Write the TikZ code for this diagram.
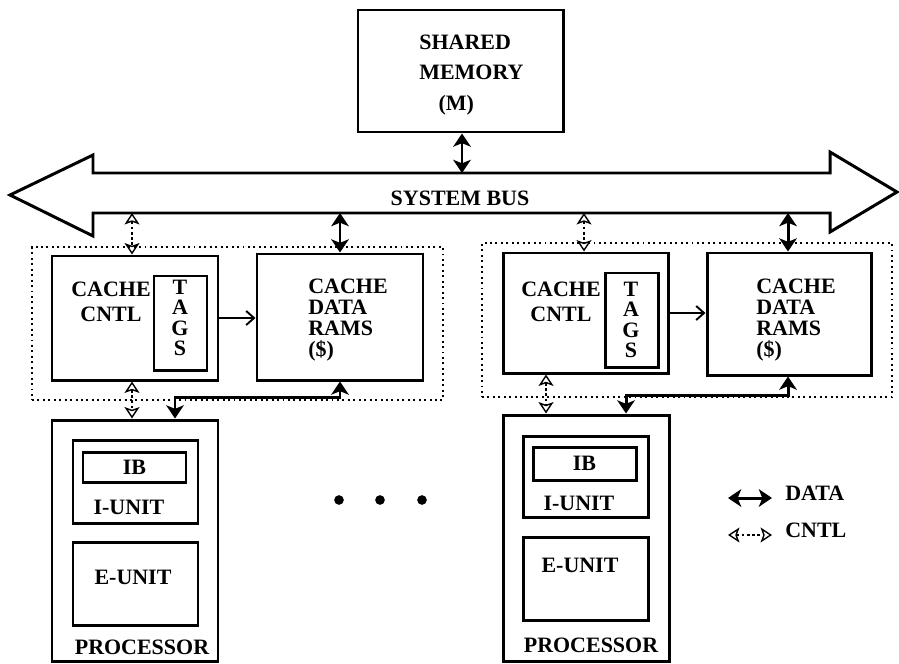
\documentclass[tikz,border=0pt]{standalone}
\usepackage{fontspec}
\setmainfont{Liberation Serif}
\usepackage{tikz}
\usetikzlibrary{arrows.meta,fit}

\begin{document}
\begin{tikzpicture}[x=0.02cm,y=-0.02cm]
	\tikzstyle{blk}=[draw,line width=1.7pt,inner sep=0pt]
	\tikzstyle{grp}=[draw,dotted,line width=1.1pt,inner sep=0pt]
	\tikzstyle{txt}=[inner sep=0pt,font=\fontsize{12.5}{14}\selectfont\bfseries]
	\tikzstyle{dot}=[circle,fill=black,inner sep=0pt,minimum size=5.5pt]
	\tikzstyle{data}=[line width=1.7pt,{Stealth[length=7.5pt,width=10pt,inset=2pt]}-{Stealth[length=7.5pt,width=10pt,inset=2pt]}]
	\tikzstyle{cntl}=[line width=0.8pt,dash pattern=on 1.5pt off 1.5pt,{Stealth[open,length=6.5pt,width=8.5pt,inset=1.5pt]}-{Stealth[open,length=6.5pt,width=8.5pt,inset=1.5pt]}]
	\tikzstyle{tagarr}=[line width=1.1pt,-{Straight Barb[length=4.5pt,width=8pt]}]
	\useasboundingbox (0,0) rectangle (899,663);
	\clip (0,0) rectangle (899,663);
	% memory and bus
	\node[blk,fit={(358,10) (563,132)}] (mem) {};
	\node[txt,anchor=west,align=left,font=\fontsize{12.5}{17.6}\selectfont\bfseries] (memtxt) at (419,75) {SHARED\\MEMORY\\\hspace*{11pt}(M)};
	\draw[line width=1.7pt] (93,173) -- (830,173) -- (830,152) -- (897,192) -- (830,232) -- (830,213) -- (93,213) -- (93,236) -- (10,195) -- (93,155) -- cycle;
	\node[txt] (bus) at (460,198) {SYSTEM BUS};
	\coordinate (bt) at (462,173);
	\draw[data] (mem.south -| bt) -- (bt);
	% first processor
	\node[grp,fit={(32,247) (443,400)}] (g1) {};
	\node[blk,fit={(52,256) (218,380)}] (cc1) {};
	\node[blk,fit={(154,276) (207,370)}] (tg1) {};
	\node[blk,fit={(257,254) (423,380)}] (cd1) {};
	\node[txt,align=center] (cct1) at (111,302) {CACHE\\CNTL};
	\node[txt,align=center,font=\fontsize{12.5}{11.5}\selectfont\bfseries] (tgt1) at (180,318) {T\\A\\G\\S};
	\node[txt,anchor=west,align=left,font=\fontsize{12.5}{12}\selectfont\bfseries] (cdt1) at (308,320) {CACHE\\DATA\\RAMS\\(\$)};
	\node[blk,fit={(52,420) (218,661)}] (p1) {};
	\node[blk,fit={(73,440) (198,523)}] (iu1) {};
	\node[blk,fit={(83,452) (186,482)}] (ib1) {};
	\node[txt] (ibt1) at (ib1) {IB};
	\node[txt] (iut1) at (129,507) {I-UNIT};
	\node[blk,fit={(73,542) (198,625)}] (eu1) {};
	\node[txt] (eut1) at (133,577) {E-UNIT};
	\node[txt] (pt1) at (142,647) {PROCESSOR};
	\coordinate (c1) at (132,213);
	\coordinate (d1) at (340,213);
	\coordinate (k1) at (175,397);
	\draw[cntl] (c1) -- (c1 |- cc1.north);
	\draw[data] (d1) -- (d1 |- cd1.north);
	\draw[tagarr] (cc1.east) -- (cc1.east -| cd1.west);
	\draw[cntl] (c1 |- cc1.south) -- (c1 |- p1.north);
	\draw[data] (d1 |- cd1.south) |- (k1) -- (k1 |- p1.north);
	% dots
	\node[dot] (dt1) at (339,500) {};
	\node[dot] (dt2) at (380,500) {};
	\node[dot] (dt3) at (422,500) {};
	% second processor
	\node[grp,fit={(482,243) (892,397)}] (g2) {};
	\node[blk,fit={(503,253) (668,373)}] (cc2) {};
	\node[blk,fit={(605,273) (658,367)}] (tg2) {};
	\node[blk,fit={(707,253) (871,375)}] (cd2) {};
	\node[txt,align=center] (cct2) at (561,302) {CACHE\\CNTL};
	\node[txt,align=center,font=\fontsize{12.5}{11.5}\selectfont\bfseries] (tgt2) at (631,320) {T\\A\\G\\S};
	\node[txt,anchor=west,align=left,font=\fontsize{12.5}{12}\selectfont\bfseries] (cdt2) at (756,320) {CACHE\\DATA\\RAMS\\(\$)};
	\node[blk,fit={(503,415) (669,661)}] (p2) {};
	\node[blk,fit={(523,436) (648,517)}] (iu2) {};
	\node[blk,fit={(533,447) (636,480)}] (ib2) {};
	\node[txt] (ibt2) at (ib2) {IB};
	\node[txt] (iut2) at (579,503) {I-UNIT};
	\node[blk,fit={(523,537) (648,620)}] (eu2) {};
	\node[txt] (eut2) at (580,565) {E-UNIT};
	\node[txt] (pt2) at (591,645) {PROCESSOR};
	\coordinate (c2) at (584,213);
	\coordinate (e2) at (546,373);
	\coordinate (d2) at (788,213);
	\coordinate (k2) at (626,395);
	\draw[cntl] (c2) -- (c2 |- cc2.north);
	\draw[data] (d2) -- (d2 |- cd2.north);
	\draw[tagarr] (cc2.east) -- (cc2.east -| cd2.west);
	\draw[cntl] (e2 |- cc2.south) -- (e2 |- p2.north);
	\draw[data] (d2 |- cd2.south) |- (k2) -- (k2 |- p2.north);
	% legend
	\coordinate (la1) at (728,498);
	\coordinate (la2) at (772,498);
	\draw[data] (la1) -- (la2);
	\node[txt,anchor=west] (ldata) at (785,493) {DATA};
	\coordinate (lb1) at (728,535);
	\coordinate (lb2) at (772,535);
	\draw[cntl] (lb1) -- (lb2);
	\node[txt,anchor=west] (lcntl) at (785,530) {CNTL};
\end{tikzpicture}
\end{document}
